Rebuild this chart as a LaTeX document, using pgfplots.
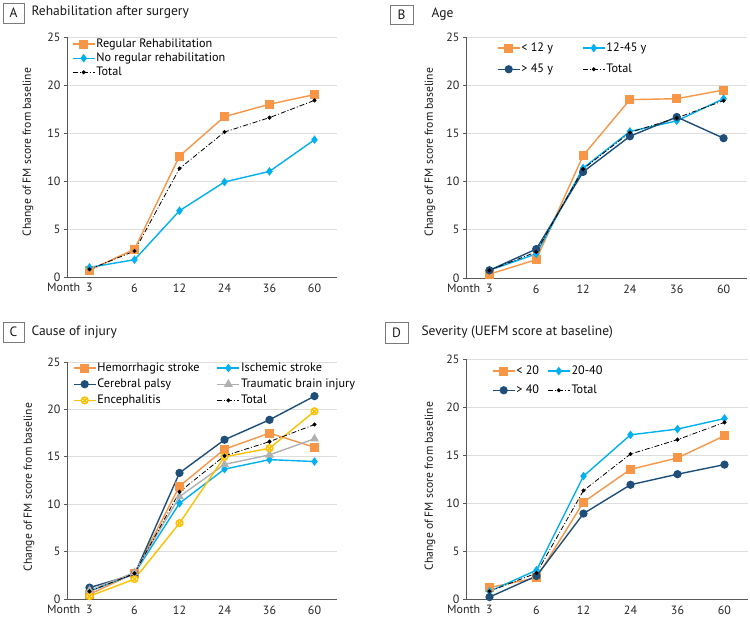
\documentclass[border=0pt]{standalone}
\usepackage{fontspec}
\setmainfont{PT Sans}
\usepackage{pgfplots}
\pgfplotsset{compat=1.18}
\definecolor{cOr}{HTML}{F79646}
\definecolor{cLb}{HTML}{00B0F0}
\definecolor{cDb}{HTML}{1F4E79}
\definecolor{cGr}{HTML}{B0B0B0}
\definecolor{cYe}{HTML}{FFC000}
\definecolor{cGrid}{HTML}{DDDDDD}
\definecolor{cAx}{HTML}{595959}
\pgfplotsset{
  panel/.style={
    scale only axis,
    xmin=-0.5, xmax=5.5, ymin=0, ymax=25,
    axis lines=left, axis line style={-, cAx, line width=0.6pt},
    ytick={0,5,...,25},
    xtick={0,...,5},
    xticklabels={\llap{Month\hspace{6pt}}3,6,12,24,36,60},
    minor xtick={-0.5,0.5,...,5.5},
    xtick style={draw=none},
    minor x tick style={cAx, line width=0.6pt},
    ytick style={cAx, line width=0.6pt},
    tick align=outside,
    major tick length=3pt, minor tick length=4pt,
    ymajorgrids, grid style={cGrid, line width=0.6pt},
    /pgf/number format/assume math mode=true,
    tick label style={font=\fontsize{12}{14}\selectfont, text=black!85},
    clip=false,
    legend style={draw=none, fill=none, inner sep=0pt, outer sep=0pt, anchor=north west,
      font=\fontsize{12.2}{14}\selectfont, nodes={inner sep=1pt}},
    legend cell align=left,
    legend image code/.code={\draw[mark repeat=2,mark phase=2] plot coordinates {(0pt,0pt) (11pt,0pt) (22pt,0pt)};},
  },
  sOr/.style={cOr, line width=1.4pt, mark=square*, mark size=3.8pt, mark options={solid}},
  sLb/.style={cLb, line width=1.4pt, mark=diamond*, mark size=3.2pt, mark options={solid}},
  sDb/.style={cDb, line width=1.4pt, mark=*, mark size=3.4pt, mark options={solid}},
  sGr/.style={cGr, line width=1.4pt, mark=triangle*, mark size=3.8pt, mark options={solid}},
  sYe/.style={cYe, line width=1.4pt, mark=otimes*, mark size=3.4pt, mark options={solid, fill=white}},
  sTot/.style={black, line width=0.8pt, dash pattern=on 5pt off 2pt on 1pt off 2pt, mark=*, mark size=1.6pt, mark options={solid}},
}
\begin{document}
\begin{tikzpicture}
\useasboundingbox (0pt,0pt) rectangle (750pt,621pt);
\tikzset{lbl/.style={font=\fontsize{13.5}{15}\selectfont, text=black!90},
  ylab/.style={rotate=90, font=\fontsize{11.6}{14}\selectfont, text=black!90},
  pbox/.style={draw=cAx!80, line width=0.6pt}}
% ---------- Panel A ----------
\draw[pbox] (3pt,598pt) rectangle (24pt,618pt);
\node[lbl] at (13.5pt,608pt) {A};
\node[lbl, anchor=west] at (28pt,608.5pt) {Rehabilitation after surgery};
\node[ylab] at (28pt,469pt) {Change of FM score from baseline};
\begin{axis}[panel, at={(67pt,344pt)}, anchor=south west, width=270pt, height=240pt,
  legend style={at={(axis description cs:0,1)}, xshift=5pt, yshift=-1pt, row sep=2pt}]
\addplot[sOr] coordinates {(0,0.7)(1,2.9)(2,12.6)(3,16.7)(4,18.0)(5,19.0)};
\addlegendentry{Regular Rehabilitation}
\addplot[sLb] coordinates {(0,1.0)(1,1.8)(2,6.9)(3,9.9)(4,11.0)(5,14.3)};
\addlegendentry{No regular rehabilitation}
\addplot[sTot] coordinates {(0,0.8)(1,2.7)(2,11.3)(3,15.1)(4,16.6)(5,18.4)};
\addlegendentry{Total}
\end{axis}
% ---------- Panel B ----------
\draw[pbox] (390pt,597pt) rectangle (413pt,616pt);
\node[lbl] at (401.5pt,606.5pt) {B};
\node[lbl, anchor=west] at (428pt,607pt) {Age};
\node[ylab] at (430pt,469pt) {Change of FM score from baseline};
\begin{axis}[panel, at={(466pt,343pt)}, anchor=south west, width=281pt, height=241pt,
  legend columns=2,
  legend style={at={(axis description cs:0,1)}, xshift=31pt, yshift=-5pt, row sep=9pt,
    /tikz/every even column/.append style={column sep=28pt}}]
\addplot[sOr] coordinates {(0,0.4)(1,1.9)(2,12.7)(3,18.5)(4,18.6)(5,19.5)};
\addlegendentry{< 12 y}
\addplot[sLb] coordinates {(0,0.8)(1,2.5)(2,11.4)(3,15.2)(4,16.3)(5,18.6)};
\addlegendentry{12-45 y}
\addplot[sDb] coordinates {(0,0.8)(1,3.0)(2,11.0)(3,14.7)(4,16.7)(5,14.5)};
\addlegendentry{> 45 y}
\addplot[sTot] coordinates {(0,0.8)(1,2.7)(2,11.3)(3,15.1)(4,16.6)(5,18.4)};
\addlegendentry{Total}
\end{axis}
% ---------- Panel C ----------
\draw[pbox] (3pt,279pt) rectangle (24pt,299pt);
\node[lbl] at (13.5pt,289pt) {C};
\node[lbl, anchor=west] at (28pt,289pt) {Cause of injury};
\node[ylab] at (29pt,134pt) {Change of FM score from baseline};
\begin{axis}[panel, at={(67pt,22pt)}, anchor=south west, width=270pt, height=237pt,
  legend columns=2,
  legend style={at={(axis description cs:0,1)}, xshift=6pt, yshift=0pt, row sep=4pt,
    /tikz/every even column/.append style={column sep=16pt}}]
\addplot[sOr] coordinates {(0,0.5)(1,2.7)(2,11.9)(3,15.8)(4,17.5)(5,16.0)};
\addlegendentry{Hemorrhagic stroke}
\addplot[sLb] coordinates {(0,0.8)(1,2.7)(2,10.1)(3,13.7)(4,14.7)(5,14.5)};
\addlegendentry{Ischemic stroke}
\addplot[sDb] coordinates {(0,1.2)(1,2.6)(2,13.3)(3,16.8)(4,18.9)(5,21.4)};
\addlegendentry{Cerebral palsy}
\addplot[sGr] coordinates {(0,0.9)(1,2.8)(2,10.8)(3,14.2)(4,15.2)(5,16.9)};
\addlegendentry{Traumatic brain injury}
\addplot[sYe] coordinates {(0,0.3)(1,2.1)(2,8.0)(3,15.0)(4,15.9)(5,19.8)};
\addlegendentry{Encephalitis}
\addplot[sTot] coordinates {(0,0.8)(1,2.7)(2,11.3)(3,15.1)(4,16.6)(5,18.4)};
\addlegendentry{Total}
\end{axis}
% ---------- Panel D ----------
\draw[pbox] (385pt,278pt) rectangle (408pt,299pt);
\node[lbl] at (396.5pt,288.5pt) {D};
\node[lbl, anchor=west] at (418pt,289pt) {Severity (UEFM score at baseline)};
\node[ylab] at (430pt,135pt) {Change of FM score from baseline};
\begin{axis}[panel, at={(466pt,22pt)}, anchor=south west, width=282pt, height=240pt,
  legend columns=2,
  legend style={at={(axis description cs:0,1)}, xshift=26pt, yshift=-6pt, row sep=7pt,
    /tikz/every even column/.append style={column sep=7pt}}]
\addplot[sOr] coordinates {(0,1.2)(1,2.2)(2,10.1)(3,13.5)(4,14.7)(5,17.0)};
\addlegendentry{< 20}
\addplot[sLb] coordinates {(0,0.8)(1,3.0)(2,12.8)(3,17.1)(4,17.7)(5,18.8)};
\addlegendentry{20-40}
\addplot[sDb] coordinates {(0,0.2)(1,2.4)(2,8.9)(3,11.9)(4,13.0)(5,14.0)};
\addlegendentry{> 40}
\addplot[sTot] coordinates {(0,0.8)(1,2.7)(2,11.3)(3,15.1)(4,16.6)(5,18.4)};
\addlegendentry{Total}
\end{axis}
\end{tikzpicture}
\end{document}
